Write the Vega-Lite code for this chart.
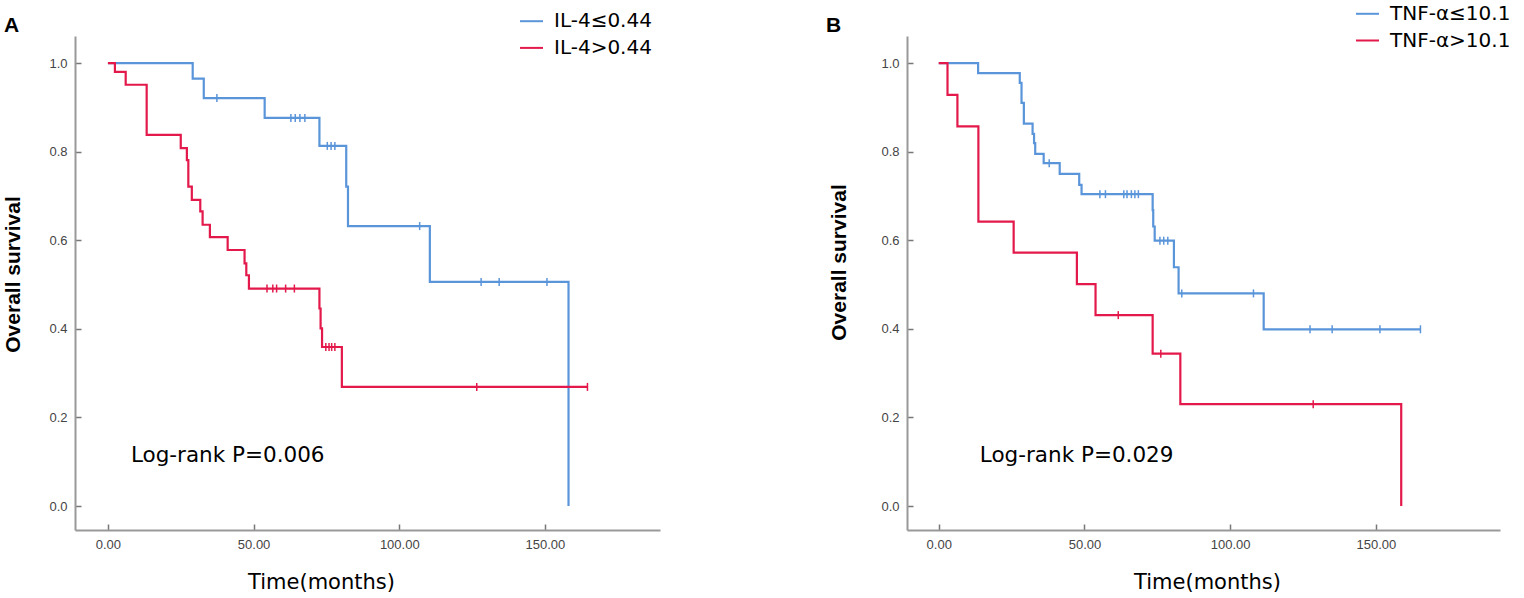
{
  "$schema": "https://vega.github.io/schema/vega-lite/v6.json",
  "autosize": {"type": "pad"},
  "padding": {"left": 2, "top": 1, "right": 0, "bottom": 12},
  "background": "white",
  "bounds": "flush",
  "spacing": 247,
  "config": {
    "view": {"stroke": null},
    "font": "DejaVu Sans",
    "axis": {
      "grid": false,
      "domainColor": "#999999",
      "domainWidth": 2,
      "tickColor": "#777777",
      "tickWidth": 1.5,
      "tickSize": -6,
      "labelPadding": 14,
      "labelFont": "Liberation Sans",
      "labelFontSize": 13,
      "labelColor": "#444444",
      "titleColor": "black"
    },
    "legend": {
      "title": null,
      "orient": "none",
      "symbolType": "stroke",
      "symbolSize": 529,
      "symbolStrokeWidth": 2,
      "labelFont": "DejaVu Sans",
      "labelFontSize": 20,
      "labelColor": "black",
      "labelOffset": 10,
      "rowPadding": 3.7,
      "padding": 0
    },
    "title": {"font": "Liberation Sans", "fontSize": 21, "fontWeight": "bold", "color": "black"}
  },
  "datasets": {
    "a_curve": [
      {"group": "IL-4≤0.44", "t": 0, "s": 1},
      {"group": "IL-4≤0.44", "t": 29.1, "s": 0.965},
      {"group": "IL-4≤0.44", "t": 32.9, "s": 0.921},
      {"group": "IL-4≤0.44", "t": 53.8, "s": 0.876},
      {"group": "IL-4≤0.44", "t": 72.6, "s": 0.813},
      {"group": "IL-4≤0.44", "t": 81.8, "s": 0.721},
      {"group": "IL-4≤0.44", "t": 82.4, "s": 0.632},
      {"group": "IL-4≤0.44", "t": 110.5, "s": 0.506},
      {"group": "IL-4≤0.44", "t": 158.1, "s": 0},
      {"group": "IL-4>0.44", "t": 0, "s": 1},
      {"group": "IL-4>0.44", "t": 2.4, "s": 0.98},
      {"group": "IL-4>0.44", "t": 6.1, "s": 0.951},
      {"group": "IL-4>0.44", "t": 13.3, "s": 0.838},
      {"group": "IL-4>0.44", "t": 25, "s": 0.808},
      {"group": "IL-4>0.44", "t": 27.1, "s": 0.781},
      {"group": "IL-4>0.44", "t": 27.6, "s": 0.721},
      {"group": "IL-4>0.44", "t": 28.8, "s": 0.691},
      {"group": "IL-4>0.44", "t": 31.7, "s": 0.665},
      {"group": "IL-4>0.44", "t": 32.5, "s": 0.635},
      {"group": "IL-4>0.44", "t": 35, "s": 0.607},
      {"group": "IL-4>0.44", "t": 41.1, "s": 0.578},
      {"group": "IL-4>0.44", "t": 46.9, "s": 0.548},
      {"group": "IL-4>0.44", "t": 47.5, "s": 0.521},
      {"group": "IL-4>0.44", "t": 48.4, "s": 0.491},
      {"group": "IL-4>0.44", "t": 72.6, "s": 0.446},
      {"group": "IL-4>0.44", "t": 73, "s": 0.401},
      {"group": "IL-4>0.44", "t": 73.5, "s": 0.359},
      {"group": "IL-4>0.44", "t": 80.3, "s": 0.269},
      {"group": "IL-4>0.44", "t": 164.6, "s": 0.269}
    ],
    "a_cens": [
      {"group": "IL-4≤0.44", "t": 37.4, "s": 0.921},
      {"group": "IL-4≤0.44", "t": 62.8, "s": 0.876},
      {"group": "IL-4≤0.44", "t": 64.3, "s": 0.876},
      {"group": "IL-4≤0.44", "t": 65.9, "s": 0.876},
      {"group": "IL-4≤0.44", "t": 67.6, "s": 0.876},
      {"group": "IL-4≤0.44", "t": 75.3, "s": 0.813},
      {"group": "IL-4≤0.44", "t": 76.6, "s": 0.813},
      {"group": "IL-4≤0.44", "t": 77.9, "s": 0.813},
      {"group": "IL-4≤0.44", "t": 107, "s": 0.632},
      {"group": "IL-4≤0.44", "t": 128.1, "s": 0.506},
      {"group": "IL-4≤0.44", "t": 134.3, "s": 0.506},
      {"group": "IL-4≤0.44", "t": 150.7, "s": 0.506},
      {"group": "IL-4>0.44", "t": 54.6, "s": 0.491},
      {"group": "IL-4>0.44", "t": 56.6, "s": 0.491},
      {"group": "IL-4>0.44", "t": 57.9, "s": 0.491},
      {"group": "IL-4>0.44", "t": 61, "s": 0.491},
      {"group": "IL-4>0.44", "t": 64, "s": 0.491},
      {"group": "IL-4>0.44", "t": 74.8, "s": 0.359},
      {"group": "IL-4>0.44", "t": 75.9, "s": 0.359},
      {"group": "IL-4>0.44", "t": 76.8, "s": 0.359},
      {"group": "IL-4>0.44", "t": 77.9, "s": 0.359},
      {"group": "IL-4>0.44", "t": 126.6, "s": 0.269},
      {"group": "IL-4>0.44", "t": 164.6, "s": 0.269}
    ],
    "b_curve": [
      {"group": "TNF-α≤10.1", "t": 0, "s": 1},
      {"group": "TNF-α≤10.1", "t": 13.5, "s": 0.977},
      {"group": "TNF-α≤10.1", "t": 27.8, "s": 0.955},
      {"group": "TNF-α≤10.1", "t": 28.4, "s": 0.91},
      {"group": "TNF-α≤10.1", "t": 29.2, "s": 0.863},
      {"group": "TNF-α≤10.1", "t": 32.2, "s": 0.84},
      {"group": "TNF-α≤10.1", "t": 32.7, "s": 0.819},
      {"group": "TNF-α≤10.1", "t": 33.1, "s": 0.795},
      {"group": "TNF-α≤10.1", "t": 36, "s": 0.774},
      {"group": "TNF-α≤10.1", "t": 41.5, "s": 0.75},
      {"group": "TNF-α≤10.1", "t": 48.2, "s": 0.725},
      {"group": "TNF-α≤10.1", "t": 49, "s": 0.704},
      {"group": "TNF-α≤10.1", "t": 73.4, "s": 0.668},
      {"group": "TNF-α≤10.1", "t": 73.6, "s": 0.631},
      {"group": "TNF-α≤10.1", "t": 74.1, "s": 0.599},
      {"group": "TNF-α≤10.1", "t": 80.7, "s": 0.539},
      {"group": "TNF-α≤10.1", "t": 82.3, "s": 0.48},
      {"group": "TNF-α≤10.1", "t": 111.5, "s": 0.399},
      {"group": "TNF-α≤10.1", "t": 165.3, "s": 0.399},
      {"group": "TNF-α>10.1", "t": 0, "s": 1},
      {"group": "TNF-α>10.1", "t": 3, "s": 0.928},
      {"group": "TNF-α>10.1", "t": 6.4, "s": 0.857},
      {"group": "TNF-α>10.1", "t": 13.6, "s": 0.642},
      {"group": "TNF-α>10.1", "t": 25.7, "s": 0.572},
      {"group": "TNF-α>10.1", "t": 47.4, "s": 0.501},
      {"group": "TNF-α>10.1", "t": 53.8, "s": 0.431},
      {"group": "TNF-α>10.1", "t": 73.4, "s": 0.344},
      {"group": "TNF-α>10.1", "t": 82.9, "s": 0.23},
      {"group": "TNF-α>10.1", "t": 158.7, "s": 0}
    ],
    "b_cens": [
      {"group": "TNF-α≤10.1", "t": 37.9, "s": 0.774},
      {"group": "TNF-α≤10.1", "t": 55.3, "s": 0.704},
      {"group": "TNF-α≤10.1", "t": 57.2, "s": 0.704},
      {"group": "TNF-α≤10.1", "t": 63.5, "s": 0.704},
      {"group": "TNF-α≤10.1", "t": 64.6, "s": 0.704},
      {"group": "TNF-α≤10.1", "t": 66.1, "s": 0.704},
      {"group": "TNF-α≤10.1", "t": 67.3, "s": 0.704},
      {"group": "TNF-α≤10.1", "t": 68.5, "s": 0.704},
      {"group": "TNF-α≤10.1", "t": 75.9, "s": 0.599},
      {"group": "TNF-α≤10.1", "t": 77.2, "s": 0.599},
      {"group": "TNF-α≤10.1", "t": 78.6, "s": 0.599},
      {"group": "TNF-α≤10.1", "t": 83.4, "s": 0.48},
      {"group": "TNF-α≤10.1", "t": 108, "s": 0.48},
      {"group": "TNF-α≤10.1", "t": 127.4, "s": 0.399},
      {"group": "TNF-α≤10.1", "t": 135, "s": 0.399},
      {"group": "TNF-α≤10.1", "t": 151.4, "s": 0.399},
      {"group": "TNF-α≤10.1", "t": 165.3, "s": 0.399},
      {"group": "TNF-α>10.1", "t": 61.6, "s": 0.431},
      {"group": "TNF-α>10.1", "t": 76.2, "s": 0.344},
      {"group": "TNF-α>10.1", "t": 128.5, "s": 0.23}
    ]
  },
  "hconcat": [
    {
      "width": 585,
      "height": 494,
      "title": {"text": "A", "anchor": "start", "frame": "group", "dx": -71, "offset": -44, "baseline": "alphabetic"},
      "layer": [
        {
          "data": {"name": "a_curve"},
          "mark": {"type": "line", "interpolate": "step-after", "strokeWidth": 2.2},
          "encoding": {
            "x": {"field": "t", "type": "quantitative",
              "scale": {"domain": [-11.3, 189.5], "nice": false, "zero": false},
              "axis": {"values": [0, 50, 100, 150], "format": ".2f", "title": "Time(months)",
                "titleFont": "DejaVu Sans", "titleFontSize": 21, "titleFontWeight": "normal",
                "titleX": 246, "titleY": 52, "titleAlign": "center", "titleBaseline": "middle"}},
            "y": {"field": "s", "type": "quantitative",
              "scale": {"domain": [-0.054, 1.061], "nice": false, "zero": false},
              "axis": {"values": [0, 0.2, 0.4, 0.6, 0.8, 1], "format": ".1f", "title": "Overall survival",
                "titleFont": "Liberation Sans", "titleFontSize": 21, "titleFontWeight": "bold",
                "titleX": -62, "titleY": 238, "titleAlign": "center", "titleBaseline": "middle"}},
            "color": {"field": "group", "type": "nominal",
              "scale": {"domain": ["IL-4≤0.44", "IL-4>0.44"], "range": ["#5A95DA", "#E3194B"]},
              "legend": {"legendX": 444, "legendY": -27.3}}
          }
        },
        {
          "data": {"name": "a_cens"},
          "mark": {"type": "point", "shape": "M0,-1L0,1", "size": 64, "strokeWidth": 1.5, "filled": false, "opacity": 1},
          "encoding": {
            "x": {"field": "t", "type": "quantitative"},
            "y": {"field": "s", "type": "quantitative"},
            "color": {"field": "group", "type": "nominal", "legend": null}
          }
        },
        {
          "data": {"values": [{"label": "Log-rank P=0.006"}]},
          "mark": {"type": "text", "align": "left", "baseline": "middle", "fontSize": 21.5, "font": "DejaVu Sans", "color": "black"},
          "encoding": {
            "x": {"datum": 7.9, "type": "quantitative"},
            "y": {"datum": 0.112, "type": "quantitative"},
            "text": {"field": "label"}
          }
        }
      ]
    },
    {
      "width": 593,
      "height": 494,
      "title": {"text": "B", "anchor": "start", "frame": "group", "dx": -81, "offset": -51.7, "baseline": "alphabetic"},
      "layer": [
        {
          "data": {"name": "b_curve"},
          "mark": {"type": "line", "interpolate": "step-after", "strokeWidth": 2.2},
          "encoding": {
            "x": {"field": "t", "type": "quantitative",
              "scale": {"domain": [-10.9, 192.6], "nice": false, "zero": false},
              "axis": {"values": [0, 50, 100, 150], "format": ".2f", "title": "Time(months)",
                "titleFont": "DejaVu Sans", "titleFontSize": 21, "titleFontWeight": "normal",
                "titleX": 300, "titleY": 52, "titleAlign": "center", "titleBaseline": "middle"}},
            "y": {"field": "s", "type": "quantitative",
              "scale": {"domain": [-0.054, 1.061], "nice": false, "zero": false},
              "axis": {"values": [0, 0.2, 0.4, 0.6, 0.8, 1], "format": ".1f", "title": "Overall survival",
                "titleFont": "Liberation Sans", "titleFontSize": 21, "titleFontWeight": "bold",
                "titleX": -68, "titleY": 226, "titleAlign": "center", "titleBaseline": "middle"}},
            "color": {"field": "group", "type": "nominal",
              "scale": {"domain": ["TNF-α≤10.1", "TNF-α>10.1"], "range": ["#5A95DA", "#E3194B"]},
              "legend": {"legendX": 448, "legendY": -34.7}}
          }
        },
        {
          "data": {"name": "b_cens"},
          "mark": {"type": "point", "shape": "M0,-1L0,1", "size": 64, "strokeWidth": 1.5, "filled": false, "opacity": 1},
          "encoding": {
            "x": {"field": "t", "type": "quantitative"},
            "y": {"field": "s", "type": "quantitative"},
            "color": {"field": "group", "type": "nominal", "legend": null}
          }
        },
        {
          "data": {"values": [{"label": "Log-rank P=0.029"}]},
          "mark": {"type": "text", "align": "left", "baseline": "middle", "fontSize": 21.5, "font": "DejaVu Sans", "color": "black"},
          "encoding": {
            "x": {"datum": 14.1, "type": "quantitative"},
            "y": {"datum": 0.112, "type": "quantitative"},
            "text": {"field": "label"}
          }
        }
      ]
    }
  ],
  "resolve": {"scale": {"color": "independent"}, "legend": {"color": "independent"}}
}
